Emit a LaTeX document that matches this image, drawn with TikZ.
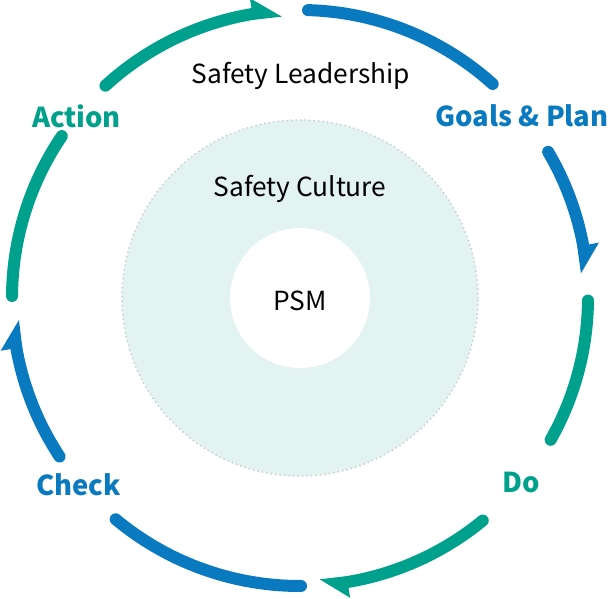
\documentclass[tikz,border=0pt]{standalone}
\usepackage{fontspec}
\setmainfont{Noto Sans CJK KR}
\usetikzlibrary{calc}
\definecolor{cblue}{RGB}{10,122,192}
\definecolor{cteal}{RGB}{0,161,140}
\definecolor{cfill}{RGB}{227,243,242}
\definecolor{cdot}{RGB}{200,206,206}
\begin{document}
\begin{tikzpicture}[x=1pt,y=1pt,
 ring/.style={line width=12pt,line cap=round},
 stage/.style={font=\bfseries\fontsize{27.4}{30}\selectfont, anchor=base, inner sep=0pt},
 plain/.style={font=\fontsize{26.3}{30}\selectfont, anchor=base, text=black, inner sep=0pt}]
\useasboundingbox (0,0) rectangle (610,598);
\coordinate (C) at (300,300);
\node[circle, minimum size=356pt, inner sep=0pt, fill=cfill, draw=cdot, line width=2pt, line cap=round, dash pattern=on 0pt off 4.5pt] (culture) at (C) {};
\node[circle, minimum size=140pt, inner sep=0pt, fill=white] (psm) at (C) {};
% arcs
\draw[ring,cblue] ($(C)+(88.4:288pt)$) arc[start angle=88.4,end angle=48,radius=288pt];
\draw[ring,cblue] ($(C)+(30.5:288pt)$) arc[start angle=30.5,end angle=10.5,radius=288pt];
\fill[cblue] ($(C)+(10.5:282pt)$) -- ($(C)+(10.5:304pt)$) -- ($(C)+(5:282pt)$) -- cycle;
\draw[ring,cteal] ($(C)+(-0.5:288pt)$) arc[start angle=-0.5,end angle=-29.5,radius=288pt];
\draw[ring,cteal] ($(C)+(-50.6:288pt)$) arc[start angle=-50.6,end angle=-80.5,radius=288pt];
\fill[cteal] ($(C)+(-80.5:282pt)$) -- ($(C)+(-80.5:304pt)$) -- ($(C)+(-86:282pt)$) -- cycle;
\draw[ring,cblue] ($(C)+(-89.8:288pt)$) arc[start angle=-89.8,end angle=-129.8,radius=288pt];
\draw[ring,cblue] ($(C)+(213.4:288pt)$) arc[start angle=213.4,end angle=190,radius=288pt];
\fill[cblue] ($(C)+(190:282pt)$) -- ($(C)+(190:304pt)$) -- ($(C)+(184.5:282pt)$) -- cycle;
\draw[ring,cteal] ($(C)+(179.6:288pt)$) arc[start angle=179.6,end angle=145.8,radius=288pt];
\draw[ring,cteal] ($(C)+(132.5:288pt)$) arc[start angle=132.5,end angle=99.5,radius=288pt];
\fill[cteal] ($(C)+(99.5:282pt)$) -- ($(C)+(99.5:304pt)$) -- ($(C)+(93.7:282pt)$) -- cycle;
% labels
\node[plain] (lead) at (301,514) {Safety Leadership};
\node[plain] (cult) at (300,401) {Safety Culture};
\node[plain] (psmt) at (300,288) {PSM};
\node[stage,text=cblue] (goals) at (522,471) {Goals \& Plan};
\node[stage,text=cteal] (action) at (76.5,470) {Action};
\node[stage,text=cteal] (do) at (521.5,106) {Do};
\node[stage,text=cblue] (check) at (78.5,103) {Check};
\end{tikzpicture}
\end{document}
